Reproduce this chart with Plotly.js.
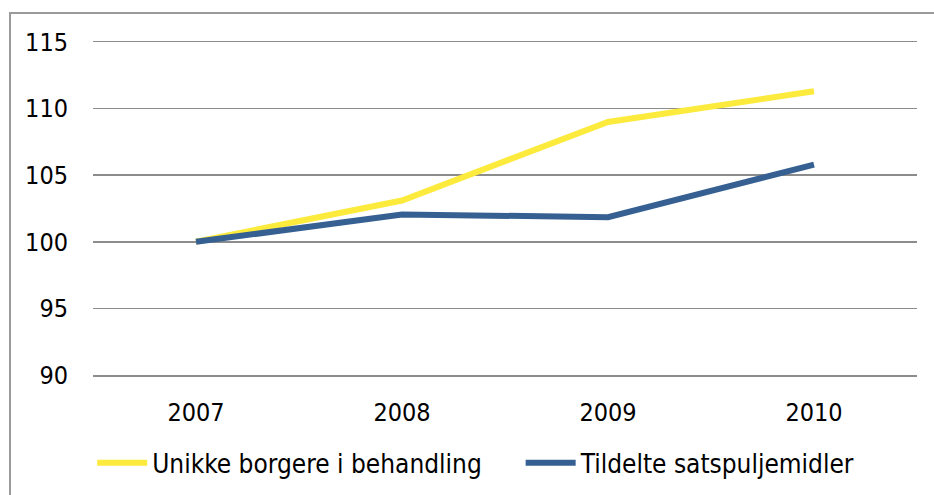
<!DOCTYPE html>
<html>
<head>
<meta charset="utf-8">
<script src="https://cdn.plot.ly/plotly-3.0.1.min.js"></script>
<style>
html,body{margin:0;padding:0;background:#fff;}
#chart{width:934px;height:495px;}
</style>
</head>
<body>
<div id="chart"></div>
<script>
const years = ['2007', '2008', '2009', '2010'];
const unikkeBorgere = [100, 103.1, 109.0, 111.3];
const tildelteMidler = [100, 102.05, 101.85, 105.8];
const seriesNames = ['Unikke borgere i behandling', 'Tildelte satspuljemidler'];
const yTicks = [90, 95, 100, 105, 110, 115];

const FONT = '"DejaVu Sans Condensed", "DejaVu Sans", sans-serif';

const traces = [
  {
    x: years, y: unikkeBorgere, name: seriesNames[0], type: 'scatter', mode: 'lines',
    line: {color: '#FCEA3C', width: 6}, legend: 'legend'
  },
  {
    x: years, y: tildelteMidler, name: seriesNames[1], type: 'scatter', mode: 'lines',
    line: {color: '#366092', width: 6}, legend: 'legend2'
  }
];

const legendBase = {
  orientation: 'h', xanchor: 'left', y: -0.264, yanchor: 'middle',
  font: {family: FONT, size: 26, color: '#000000'},
  itemwidth: 50, bgcolor: 'rgba(0,0,0,0)'
};

const layout = {
  width: 934, height: 495,
  margin: {l: 93, r: 17, t: 42, b: 120, autoexpand: false},
  paper_bgcolor: '#ffffff', plot_bgcolor: '#ffffff',
  font: {family: FONT, size: 25, color: '#000000'},
  showlegend: true,
  legend: Object.assign({}, legendBase, {x: -0.001}),
  legend2: Object.assign({}, legendBase, {x: 0.519}),
  xaxis: {
    type: 'category', range: [-0.5, 3.5],
    showgrid: false, zeroline: false, ticks: '',
    showline: true, mirror: true, linecolor: '#8c8c8c', linewidth: 1.5,
    ticklabelstandoff: 14,
    tickfont: {family: FONT, size: 25, color: '#000000'},
    fixedrange: true
  },
  yaxis: {
    range: [90, 115], tickvals: yTicks, ticktext: yTicks.map(String),
    showgrid: true, gridcolor: '#8c8c8c', gridwidth: 1.5,
    zeroline: false, showline: false, ticks: '',
    ticklabelstandoff: 24,
    tickfont: {family: FONT, size: 25, color: '#000000'},
    fixedrange: true
  },
  shapes: [
    {type: 'rect', xref: 'paper', yref: 'paper',
     x0: -0.1007, x1: 1.2, y0: -0.6, y1: 1.087,
     line: {color: '#9a9a9a', width: 2}, fillcolor: 'rgba(0,0,0,0)', layer: 'below'}
  ]
};

Plotly.newPlot('chart', traces, layout, {displayModeBar: false, staticPlot: true});
</script>
</body>
</html>
